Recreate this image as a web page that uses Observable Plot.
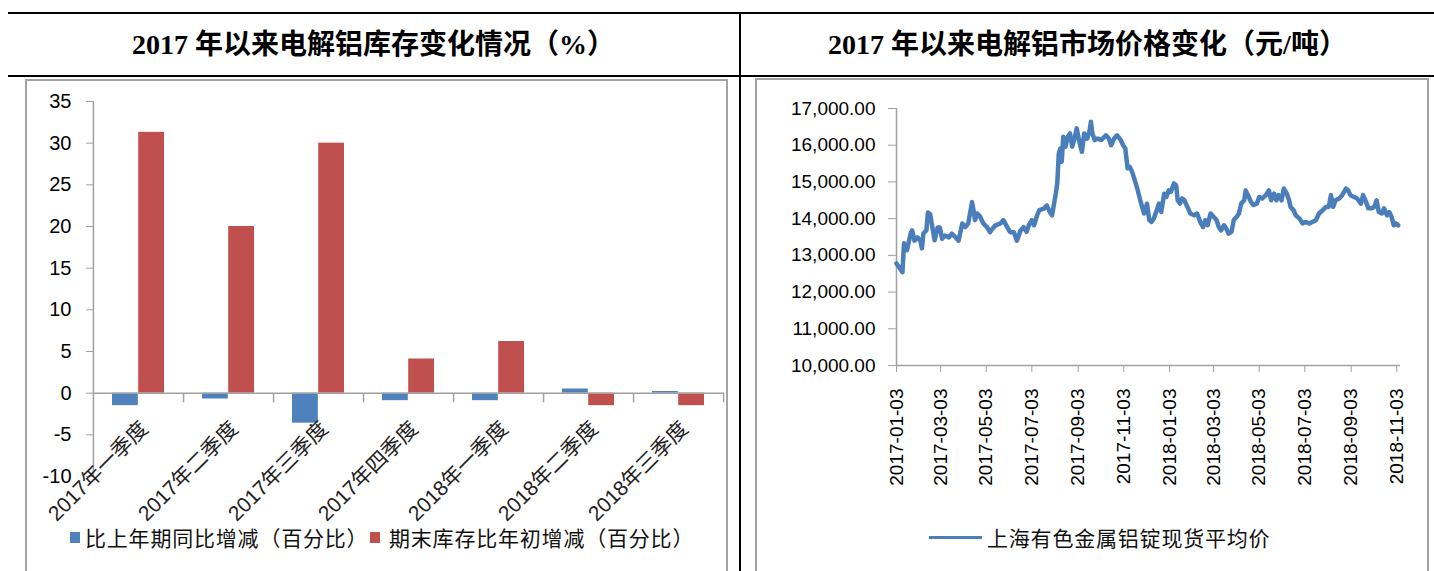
<!DOCTYPE html>
<html><head><meta charset="utf-8">
<script src="https://cdn.jsdelivr.net/npm/d3@7"></script>
<script src="https://cdn.jsdelivr.net/npm/@observablehq/plot@0.6"></script>
<style>
body{margin:0;background:#fff;}
#page{position:relative;width:1434px;height:571px;overflow:hidden;font-family:"Liberation Sans","Noto Sans CJK SC",sans-serif;color:#000;}
.bline{position:absolute;background:#000;}
.title{position:absolute;top:14px;height:61px;line-height:61px;text-align:center;font-family:"Liberation Serif","Noto Sans CJK SC",serif;font-weight:bold;font-size:28px;color:#000;white-space:nowrap;}
.frame{position:absolute;border:2px solid #a3a3a3;box-sizing:border-box;}
.chart{position:absolute;}
.chart svg{overflow:visible;}
.lg{position:absolute;font-family:"Noto Sans CJK SC",sans-serif;font-size:21px;line-height:28px;height:28px;color:#111;letter-spacing:0.8px;white-space:nowrap;}
.sq{position:absolute;width:10px;height:11px;}
</style>
</head><body>
<div id="page">
  <div class="bline" style="left:8px;top:12px;width:1426px;height:2px"></div>
  <div class="bline" style="left:8px;top:75px;width:1426px;height:2px"></div>
  <div class="bline" style="left:739px;top:12px;width:2px;height:560px"></div>
  <div class="title" style="left:8px;width:731px">2017 年以来电解铝库存变化情况（%）</div>
  <div class="title" style="left:741px;width:693px">2017 年以来电解铝市场价格变化（元/吨）</div>
  <div class="frame" style="left:25px;top:79px;width:703px;height:520px"></div>
  <div class="frame" style="left:755px;top:78px;width:674px;height:520px"></div>
  <div class="chart" id="left" style="left:26px;top:80px"></div>
  <div class="chart" id="right" style="left:757px;top:80px"></div>
  <div class="sq" style="left:70px;top:532px;background:#4f81bd"></div>
  <div class="lg" style="left:85px;top:523px">比上年期同比增减（百分比）</div>
  <div class="sq" style="left:370px;top:532px;background:#c0504d"></div>
  <div class="lg" style="left:389px;top:523px">期末库存比年初增减（百分比）</div>
  <div style="position:absolute;left:929px;top:536px;width:53px;height:3px;background:#4a7ebb"></div>
  <div class="lg" style="left:987px;top:523px">上海有色金属铝锭现货平均价</div>
</div>
<script>
// ---- Left chart data ----
const categories = ["2017年一季度","2017年二季度","2017年三季度","2017年四季度","2018年一季度","2018年二季度","2018年三季度"];
const yoyChange = [-1.5, -0.7, -3.6, -0.9, -0.9, 0.5, 0.2];
const ytdChange = [31.3, 20.0, 30.0, 4.1, 6.2, -1.5, -1.5];
const leftYTicks = [-10, -5, 0, 5, 10, 15, 20, 25, 30, 35];

// ---- Right chart data ----
const priceDates = [
"2017-01-03","2017-01-09","2017-01-11","2017-01-13","2017-01-17","2017-01-22","2017-01-24","2017-01-27","2017-01-31","2017-02-04",
"2017-02-06","2017-02-08","2017-02-12","2017-02-14","2017-02-17","2017-02-20","2017-02-23","2017-02-27","2017-03-02","2017-03-05",
"2017-03-09","2017-03-14","2017-03-18","2017-03-23","2017-03-27","2017-04-01","2017-04-05","2017-04-09","2017-04-14","2017-04-16",
"2017-04-18","2017-04-21","2017-04-25","2017-04-29","2017-05-04","2017-05-08","2017-05-11","2017-05-15","2017-05-22","2017-05-26",
"2017-05-31","2017-06-04","2017-06-09","2017-06-13","2017-06-18","2017-06-22","2017-06-26","2017-06-29","2017-07-03","2017-07-06",
"2017-07-10","2017-07-13","2017-07-19","2017-07-23","2017-07-27","2017-07-30","2017-08-01","2017-08-04","2017-08-06","2017-08-08",
"2017-08-10","2017-08-12","2017-08-14","2017-08-17","2017-08-20","2017-08-23","2017-08-26","2017-08-29","2017-09-01","2017-09-05",
"2017-09-08","2017-09-11","2017-09-15","2017-09-18","2017-09-20","2017-09-22","2017-09-25","2017-09-29","2017-10-04","2017-10-10",
"2017-10-14","2017-10-17","2017-10-21","2017-10-25","2017-10-30","2017-11-02","2017-11-05","2017-11-08","2017-11-11","2017-11-14",
"2017-11-17","2017-11-21","2017-11-25","2017-11-30","2017-12-04","2017-12-07","2017-12-10","2017-12-13","2017-12-17","2017-12-20",
"2017-12-23","2017-12-27","2017-12-30","2018-01-02","2018-01-05","2018-01-09","2018-01-12","2018-01-14","2018-01-17","2018-01-20",
"2018-01-23","2018-01-27","2018-01-31","2018-02-05","2018-02-09","2018-02-14","2018-02-17","2018-02-20","2018-02-23","2018-02-27",
"2018-03-03","2018-03-07","2018-03-10","2018-03-13","2018-03-17","2018-03-20","2018-03-23","2018-03-27","2018-03-30","2018-04-03",
"2018-04-06","2018-04-09","2018-04-13","2018-04-15","2018-04-18","2018-04-22","2018-04-25","2018-04-30","2018-05-03","2018-05-07",
"2018-05-12","2018-05-16","2018-05-19","2018-05-23","2018-05-26","2018-05-29","2018-06-02","2018-06-05","2018-06-09","2018-06-12",
"2018-06-14","2018-06-18","2018-06-21","2018-06-26","2018-06-30","2018-07-04","2018-07-09","2018-07-13","2018-07-18","2018-07-22",
"2018-07-27","2018-07-31","2018-08-04","2018-08-07","2018-08-10","2018-08-13","2018-08-18","2018-08-22","2018-08-27","2018-08-30",
"2018-09-02","2018-09-07","2018-09-11","2018-09-16","2018-09-19","2018-09-22","2018-09-26","2018-09-30","2018-10-04","2018-10-07",
"2018-10-10","2018-10-14","2018-10-17","2018-10-21","2018-10-24","2018-10-27","2018-10-30","2018-11-02","2018-11-05"];
const priceValues = [
12780,12600,12540,13330,13140,13600,13680,13400,13490,13400,
13190,13600,13680,14170,14120,13760,13410,13760,13760,13450,
13540,13490,13590,13490,13400,13870,13770,13870,14450,14230,
13960,14140,14050,13870,13770,13630,13720,13810,13870,13960,
13770,13630,13630,13400,13680,13770,13640,13820,13960,13820,
14090,14230,14270,14360,14180,14090,14320,14680,14960,15770,
15910,15550,16230,15960,16230,16320,15960,16180,16460,16050,
15820,16320,16180,16370,16640,16320,16140,16180,16140,16270,
16180,16000,16180,16270,16140,16000,15910,15370,15410,15280,
15090,14820,14500,14140,14410,13960,13910,14000,14230,14410,
14180,14680,14590,14770,14730,14960,14910,14500,14410,14550,
14500,14320,14140,14090,14140,13870,13770,13960,13820,14140,
14050,13960,13770,13680,13820,13730,13590,13640,13960,14050,
14140,14410,14500,14770,14640,14460,14370,14410,14590,14550,
14640,14770,14500,14680,14500,14640,14500,14820,14680,14500,
14320,14230,14090,14000,13870,13910,13870,13910,13960,14140,
14230,14320,14320,14640,14320,14500,14550,14640,14820,14770,
14640,14590,14550,14410,14640,14500,14280,14280,14320,14500,
14180,14140,14280,14090,14180,14050,13820,13870,13820];
const xTickDates = ["2017-01-03","2017-03-03","2017-05-03","2017-07-03","2017-09-03","2017-11-03",
                    "2018-01-03","2018-03-03","2018-05-03","2018-07-03","2018-09-03","2018-11-03"];
const xDomain = ["2017-01-03","2018-11-08"];
const rightYTicks = [10000, 11000, 12000, 13000, 14000, 15000, 16000, 17000];

const axisGray = "#a0a0a0";

// ---- Left chart ----
const rows = categories.map((c, i) => ({cat: c, yoy: yoyChange[i], ytd: ytdChange[i]}));
const leftPlot = Plot.plot({
  width: 700, height: 495,
  marginTop: 21, marginBottom: 99, marginLeft: 67, marginRight: 2,
  style: {fontFamily: "Liberation Sans, Noto Sans CJK SC, sans-serif", fontSize: "19px", color: "#000", background: "transparent", overflow: "visible"},
  x: {type: "band", domain: categories, paddingInner: 0.42, paddingOuter: 0.21, axis: null},
  y: {domain: [-10, 35], axis: null, label: null},
  marks: [
    Plot.barY(rows, {x: "cat", y: "yoy", fill: "#4f81bd", insetRight: 26.2}),
    Plot.barY(rows, {x: "cat", y: "ytd", fill: "#c0504d", insetLeft: 26.2}),
    Plot.ruleY([0], {stroke: axisGray, strokeWidth: 1.5}),
    Plot.ruleX([categories[0]], {x: d => d, dx: -45.07, stroke: axisGray, strokeWidth: 1.5}),
    Plot.link(categories, {x1: d => d, x2: d => d, y1: () => 0, y2: () => -1.1, dx: 45.07, stroke: axisGray, strokeWidth: 1.5}),
    Plot.axisY({ticks: leftYTicks, tickSize: 7, tickPadding: 15, stroke: axisGray, fill: "#000", fontSize: 20, tickFormat: d => String(d), label: null}),
    Plot.text(categories, {x: d => d, y: () => 0, text: d => d, rotate: -45, textAnchor: "end", dx: 6, dy: 32, fontSize: 21, fill: "#222"})
  ]
});
document.getElementById("left").appendChild(leftPlot);

// ---- Right chart ----
const priceRows = priceDates.map((d, i) => ({date: new Date(d), price: priceValues[i]}));
const rightPlot = Plot.plot({
  width: 670, height: 495,
  marginTop: 28, marginBottom: 210, marginLeft: 139, marginRight: 27,
  style: {fontFamily: "Liberation Sans, Noto Sans CJK SC, sans-serif", fontSize: "19px", color: "#000", background: "transparent", overflow: "visible"},
  x: {type: "utc", domain: xDomain.map(d => new Date(d)), axis: null, label: null},
  y: {domain: [10000, 17000], axis: null, label: null},
  marks: [
    Plot.ruleX([new Date(xDomain[0])], {stroke: axisGray, strokeWidth: 1.5}),
    Plot.ruleY([10000], {stroke: axisGray, strokeWidth: 1.5}),
    Plot.lineY(priceRows, {x: "date", y: "price", stroke: "#4a7ebb", strokeWidth: 4.5, strokeLinejoin: "round"}),
    Plot.axisY({ticks: rightYTicks, tickSize: 8, tickPadding: 13, stroke: axisGray, fill: "#000", fontSize: 19, tickFormat: d3.format(",.2f"), label: null}),
    Plot.axisX({ticks: xTickDates.map(d => new Date(d)), tickSize: 7, tickPadding: 16, tickRotate: -90, stroke: axisGray, fill: "#000", fontSize: 19, tickFormat: d3.utcFormat("%Y-%m-%d"), label: null})
  ]
});
document.getElementById("right").appendChild(rightPlot);
</script>
</body></html>
